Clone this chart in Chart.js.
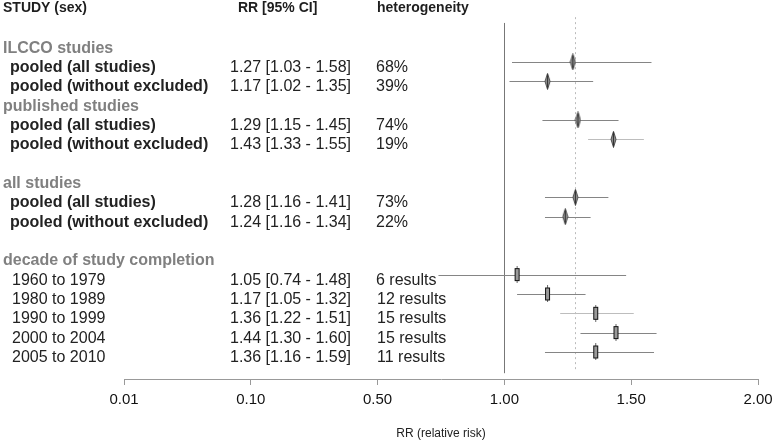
<!DOCTYPE html>
<html>
<head>
<meta charset="utf-8">
<script src="https://cdn.jsdelivr.net/npm/chart.js@4"></script>
<style>
  html, body { margin: 0; padding: 0; background: #fff; }
</style>
</head>
<body>
<canvas id="forest" width="774" height="443"></canvas>
<script>
// ---- data ----
const rowNames = ['ILCCO studies', 'pooled (all studies)', 'pooled (without excluded)',
  'published studies', 'pooled (all studies)', 'pooled (without excluded)',
  'all studies', 'pooled (all studies)', 'pooled (without excluded)',
  'decade of study completion', '1960 to 1979', '1980 to 1989', '1990 to 1999', '2000 to 2004', '2005 to 2010'];
const rowPos  = [2, 3, 4, 5, 6, 7, 9, 10, 11, 13, 14, 15, 16, 17, 18];
const rowKind = ['group', 'pooled', 'pooled', 'group', 'pooled', 'pooled', 'group', 'pooled', 'pooled',
  'group', 'sub', 'sub', 'sub', 'sub', 'sub'];
const rr      = [null, 1.27, 1.17, null, 1.29, 1.43, null, 1.28, 1.24, null, 1.05, 1.17, 1.36, 1.44, 1.36];
const lower   = [null, 1.03, 1.02, null, 1.15, 1.33, null, 1.16, 1.16, null, 0.74, 1.05, 1.22, 1.30, 1.16];
const upper   = [null, 1.58, 1.35, null, 1.45, 1.55, null, 1.41, 1.34, null, 1.48, 1.32, 1.51, 1.60, 1.59];
const hetero  = ['', '68%', '39%', '', '74%', '19%', '', '73%', '22%', '', '6 results', '12 results', '15 results', '15 results', '11 results'];
const headers = ['STUDY (sex)', 'RR [95% CI]', 'heterogeneity'];
const tickValues = [-0.5, 0, 0.5, 1, 1.5, 2];
const tickLabels = ['0.01', '0.10', '0.50', '1.00', '1.50', '2.00'];
const nullLine = 1.0;
const pooledLine = 1.28;

const FONT = "'Liberation Sans', Arial, sans-serif";
const fmt = v => v.toFixed(2);

// marker images
function diamond() {
  const c = document.createElement('canvas');
  c.width = 7; c.height = 17;
  const g = c.getContext('2d');
  g.beginPath();
  g.moveTo(3.5, 0.5); g.lineTo(6, 8.5); g.lineTo(3.5, 16.5); g.lineTo(1, 8.5);
  g.closePath();
  g.fillStyle = '#8f8f8f'; g.fill();
  g.strokeStyle = '#4a4a4a'; g.lineWidth = 1; g.stroke();
  g.beginPath(); g.moveTo(3.5, 1); g.lineTo(3.5, 16); g.strokeStyle = '#333'; g.stroke();
  return c;
}
function box() {
  const c = document.createElement('canvas');
  c.width = 7; c.height = 17;
  const g = c.getContext('2d');
  g.strokeStyle = '#666';
  g.beginPath(); g.moveTo(3.5, 0); g.lineTo(3.5, 17); g.stroke();
  g.fillStyle = '#9a9a9a';
  g.fillRect(1.5, 2.5, 4, 12);
  g.strokeStyle = '#111';
  g.strokeRect(1.5, 2.5, 4, 12);
  return c;
}

const pooledPts = [], subPts = [];
rowKind.forEach((k, i) => {
  if (k === 'pooled') pooledPts.push({ x: rr[i], y: rowPos[i] });
  if (k === 'sub') subPts.push({ x: rr[i], y: rowPos[i] });
});

// whiskers, reference lines and the text table
const forestPlugin = {
  id: 'forest',
  beforeDatasetsDraw(chart) {
    const { ctx, scales: { x, y } } = chart;
    ctx.save();
    // solid line at RR = 1
    ctx.strokeStyle = '#777';
    ctx.lineWidth = 1;
    let px = Math.round(x.getPixelForValue(nullLine)) + 0.5;
    ctx.beginPath();
    ctx.moveTo(px, y.getPixelForValue(0.98));
    ctx.lineTo(px, y.getPixelForValue(19.1));
    ctx.stroke();
    // dotted line at pooled estimate
    px = Math.round(x.getPixelForValue(pooledLine)) + 0.5;
    ctx.strokeStyle = '#bbb';
    ctx.setLineDash([2, 3]);
    ctx.beginPath();
    ctx.moveTo(px, y.getPixelForValue(0.68));
    ctx.lineTo(px, y.getPixelForValue(19.0));
    ctx.stroke();
    ctx.setLineDash([]);
    // CI lines
    rowKind.forEach((k, i) => {
      if (k === 'group') return;
      const py = Math.round(y.getPixelForValue(rowPos[i])) + 0.5;
      ctx.strokeStyle = (i === 5 || i === 12) ? '#bdbdbd' : '#858585';
      ctx.beginPath();
      ctx.moveTo(x.getPixelForValue(lower[i]), py);
      ctx.lineTo(x.getPixelForValue(upper[i]), py);
      ctx.stroke();
    });
    ctx.restore();
  },
  afterDraw(chart) {
    const { ctx, scales: { y } } = chart;
    ctx.save();
    ctx.textBaseline = 'middle';
    ctx.textAlign = 'left';
    ctx.fillStyle = '#1e1e1e';
    ctx.font = 'bold 14px ' + FONT;
    const hy = y.getPixelForValue(0) + 4;
    ctx.fillText(headers[0], 3, hy);
    ctx.fillText(headers[1], 238, hy);
    ctx.fillText(headers[2], 377, hy);
    rowKind.forEach((k, i) => {
      const ty = y.getPixelForValue(rowPos[i]) + 5.5;
      if (k === 'group') {
        ctx.fillStyle = '#808080';
        ctx.font = 'bold 16px ' + FONT;
        ctx.fillText(rowNames[i], 3, ty);
        return;
      }
      ctx.fillStyle = '#222';
      ctx.font = (k === 'pooled' ? 'bold ' : '') + '16px ' + FONT;
      ctx.fillText(rowNames[i], k === 'pooled' ? 10 : 12, ty);
      ctx.font = '16px ' + FONT;
      ctx.fillText(fmt(rr[i]) + ' [' + fmt(lower[i]) + ' - ' + fmt(upper[i]) + ']', 230, ty);
      ctx.fillText(hetero[i], k === 'sub' && hetero[i].length > 9 ? 377 : 376, ty);
    });
    ctx.restore();
  }
};

new Chart(document.getElementById('forest'), {
  type: 'scatter',
  data: {
    datasets: [
      { data: pooledPts, pointStyle: diamond(), pointRadius: 8 },
      { data: subPts, pointStyle: box(), pointRadius: 8 }
    ]
  },
  options: {
    responsive: false,
    animation: false,
    layout: { autoPadding: false, padding: { left: 124, right: 16, top: 0, bottom: 0 } },
    plugins: { legend: { display: false }, tooltip: { enabled: false } },
    scales: {
      x: {
        type: 'linear',
        min: -0.5,
        max: 2.0,
        afterBuildTicks: s => { s.ticks = tickValues.map(v => ({ value: v })); },
        afterFit: s => { s.height = 64; s.paddingLeft = 0; s.paddingRight = 0; },
        ticks: {
          callback: (v, i) => tickLabels[i],
          color: '#111',
          font: { family: FONT, size: 15 },
          padding: 6,
          maxRotation: 0,
          autoSkip: false
        },
        grid: { drawOnChartArea: false, drawTicks: true, tickLength: 6, color: '#999' },
        border: { color: '#999' },
        title: {
          display: true,
          text: 'RR (relative risk)',
          color: '#222',
          font: { family: FONT, size: 12 },
          padding: { top: 12, bottom: 2 }
        }
      },
      y: {
        type: 'linear',
        reverse: true,
        min: -0.207,
        max: 19.4,
        display: false
      }
    }
  },
  plugins: [forestPlugin]
});
</script>
</body>
</html>
